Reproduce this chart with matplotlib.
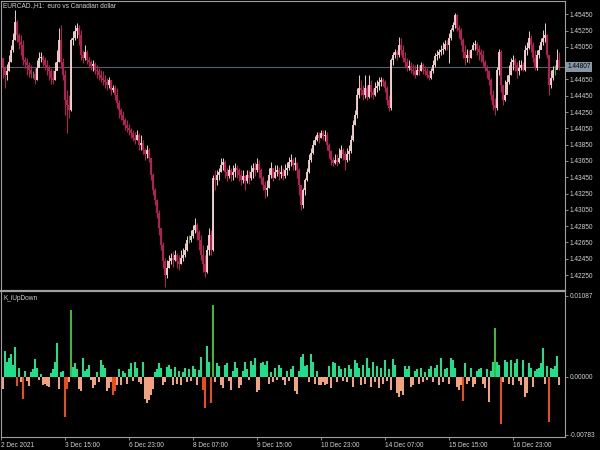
import matplotlib
matplotlib.use("Agg")
import matplotlib.pyplot as plt
import numpy as np

# EURCAD H1 bars from 2 Dec 2021 07:00, one value per bar
first_open = 1.4495
closes = [
    1.4491, 1.4479, 1.4470, 1.4475, 1.4487, 1.4501, 1.4513, 1.4536, 1.4520, 1.4511,
    1.4507, 1.4489, 1.4487, 1.4483, 1.4477, 1.4472, 1.4472, 1.4464, 1.4479, 1.4491,
    1.4492, 1.4489, 1.4483, 1.4479, 1.4475, 1.4467, 1.4464, 1.4475, 1.4487, 1.4513,
    1.4487, 1.4471, 1.4440, 1.4434, 1.4428, 1.4513, 1.4516, 1.4524, 1.4528, 1.4520,
    1.4495, 1.4491, 1.4499, 1.4489, 1.4487, 1.4482, 1.4484, 1.4477, 1.4475, 1.4471,
    1.4467, 1.4464, 1.4462, 1.4458, 1.4464, 1.4452, 1.4454, 1.4446, 1.4436, 1.4428,
    1.4422, 1.4415, 1.4409, 1.4405, 1.4403, 1.4399, 1.4393, 1.4391, 1.4397, 1.4385,
    1.4387, 1.4379, 1.4373, 1.4379, 1.4369, 1.4348, 1.4329, 1.4317, 1.4301, 1.4283,
    1.4262, 1.4242, 1.4225, 1.4234, 1.4242, 1.4246, 1.4244, 1.4250, 1.4242, 1.4238,
    1.4246, 1.4250, 1.4256, 1.4268, 1.4268, 1.4273, 1.4280, 1.4287, 1.4278, 1.4268,
    1.4250, 1.4238, 1.4229, 1.4256, 1.4274, 1.4256, 1.4344, 1.4342, 1.4348, 1.4352,
    1.4360, 1.4364, 1.4352, 1.4347, 1.4354, 1.4348, 1.4352, 1.4356, 1.4354, 1.4348,
    1.4342, 1.4347, 1.4340, 1.4348, 1.4344, 1.4352, 1.4356, 1.4354, 1.4361, 1.4354,
    1.4344, 1.4336, 1.4329, 1.4332, 1.4348, 1.4356, 1.4344, 1.4352, 1.4354, 1.4349,
    1.4352, 1.4347, 1.4354, 1.4356, 1.4364, 1.4366, 1.4360, 1.4362, 1.4354, 1.4336,
    1.4311, 1.4329, 1.4342, 1.4352, 1.4366, 1.4375, 1.4385, 1.4391, 1.4397, 1.4393,
    1.4399, 1.4396, 1.4397, 1.4385, 1.4377, 1.4366, 1.4362, 1.4366, 1.4364, 1.4369,
    1.4379, 1.4373, 1.4366, 1.4373, 1.4377, 1.4391, 1.4409, 1.4422, 1.4446, 1.4454,
    1.4452, 1.4446, 1.4454, 1.4443, 1.4458, 1.4450, 1.4446, 1.4454, 1.4457, 1.4462,
    1.4464, 1.4462, 1.4454, 1.4440, 1.4430, 1.4489, 1.4495, 1.4499, 1.4495, 1.4507,
    1.4501, 1.4491, 1.4487, 1.4479, 1.4482, 1.4477, 1.4475, 1.4471, 1.4477, 1.4475,
    1.4483, 1.4477, 1.4475, 1.4471, 1.4467, 1.4475, 1.4483, 1.4494, 1.4495, 1.4499,
    1.4501, 1.4503, 1.4509, 1.4507, 1.4516, 1.4526, 1.4532, 1.4544, 1.4528, 1.4526,
    1.4513, 1.4499, 1.4491, 1.4495, 1.4491, 1.4501, 1.4507, 1.4509, 1.4503, 1.4499,
    1.4495, 1.4487, 1.4479, 1.4475, 1.4464, 1.4446, 1.4434, 1.4430, 1.4477, 1.4499,
    1.4458, 1.4440, 1.4446, 1.4462, 1.4471, 1.4487, 1.4489, 1.4483, 1.4475, 1.4479,
    1.4483, 1.4477, 1.4501, 1.4504, 1.4516, 1.4507, 1.4491, 1.4479, 1.4495, 1.4501,
    1.4511, 1.4516, 1.4519, 1.4495, 1.4458, 1.4467, 1.4477, 1.4477, 1.4489, 1.44807,
]
highs = [
    1.4501, 1.4489, 1.4482, 1.4484, 1.4495, 1.4507, 1.4522, 1.4550, 1.4538, 1.4522,
    1.4520, 1.4513, 1.4492, 1.4491, 1.4487, 1.4483, 1.4475, 1.4479, 1.4489, 1.4499,
    1.4499, 1.4495, 1.4492, 1.4489, 1.4483, 1.4479, 1.4477, 1.4487, 1.4501, 1.4528,
    1.4532, 1.4491, 1.4477, 1.4452, 1.4446, 1.4516, 1.4524, 1.4532, 1.4534, 1.4532,
    1.4526, 1.4501, 1.4507, 1.4501, 1.4492, 1.4489, 1.4489, 1.4487, 1.4483, 1.4479,
    1.4477, 1.4475, 1.4471, 1.4467, 1.4468, 1.4464, 1.4458, 1.4458, 1.4454, 1.4440,
    1.4430, 1.4426, 1.4418, 1.4415, 1.4410, 1.4406, 1.4403, 1.4401, 1.4403, 1.4399,
    1.4397, 1.4391, 1.4381, 1.4385, 1.4381, 1.4369, 1.4350, 1.4332, 1.4318, 1.4305,
    1.4283, 1.4266, 1.4246, 1.4244, 1.4250, 1.4252, 1.4254, 1.4256, 1.4252, 1.4250,
    1.4256, 1.4258, 1.4264, 1.4273, 1.4274, 1.4280, 1.4287, 1.4295, 1.4289, 1.4280,
    1.4274, 1.4262, 1.4250, 1.4262, 1.4283, 1.4280, 1.4348, 1.4354, 1.4354, 1.4356,
    1.4369, 1.4369, 1.4366, 1.4356, 1.4360, 1.4356, 1.4360, 1.4362, 1.4360, 1.4356,
    1.4354, 1.4354, 1.4348, 1.4354, 1.4354, 1.4360, 1.4362, 1.4364, 1.4369, 1.4366,
    1.4356, 1.4347, 1.4340, 1.4342, 1.4356, 1.4364, 1.4354, 1.4360, 1.4360, 1.4357,
    1.4360, 1.4356, 1.4361, 1.4364, 1.4370, 1.4373, 1.4369, 1.4370, 1.4364, 1.4356,
    1.4336, 1.4332, 1.4344, 1.4356, 1.4373, 1.4381, 1.4391, 1.4396, 1.4401, 1.4401,
    1.4403, 1.4403, 1.4403, 1.4401, 1.4387, 1.4379, 1.4370, 1.4373, 1.4373, 1.4381,
    1.4385, 1.4381, 1.4377, 1.4381, 1.4385, 1.4397, 1.4415, 1.4428, 1.4454, 1.4471,
    1.4464, 1.4458, 1.4471, 1.4458, 1.4471, 1.4464, 1.4454, 1.4462, 1.4464, 1.4468,
    1.4468, 1.4467, 1.4464, 1.4457, 1.4446, 1.4491, 1.4499, 1.4503, 1.4501, 1.4517,
    1.4516, 1.4507, 1.4499, 1.4491, 1.4489, 1.4487, 1.4484, 1.4483, 1.4484, 1.4483,
    1.4487, 1.4485, 1.4482, 1.4479, 1.4477, 1.4479, 1.4489, 1.4497, 1.4501, 1.4503,
    1.4507, 1.4511, 1.4513, 1.4513, 1.4522, 1.4528, 1.4536, 1.4547, 1.4545, 1.4532,
    1.4528, 1.4516, 1.4507, 1.4503, 1.4501, 1.4503, 1.4511, 1.4513, 1.4511, 1.4507,
    1.4503, 1.4501, 1.4489, 1.4483, 1.4477, 1.4467, 1.4452, 1.4442, 1.4480, 1.4503,
    1.4501, 1.4458, 1.4464, 1.4471, 1.4483, 1.4491, 1.4495, 1.4491, 1.4487, 1.4489,
    1.4489, 1.4487, 1.4507, 1.4511, 1.4524, 1.4520, 1.4511, 1.4501, 1.4501, 1.4507,
    1.4516, 1.4526, 1.4534, 1.4521, 1.4495, 1.4477, 1.4482, 1.4483, 1.4503, 1.4499,
]
lows = [
    1.4483, 1.4467, 1.4455, 1.4464, 1.4475, 1.4487, 1.4499, 1.4513, 1.4511, 1.4503,
    1.4495, 1.4483, 1.4479, 1.4471, 1.4468, 1.4467, 1.4467, 1.4460, 1.4464, 1.4483,
    1.4487, 1.4482, 1.4477, 1.4471, 1.4464, 1.4460, 1.4459, 1.4464, 1.4477, 1.4487,
    1.4479, 1.4464, 1.4422, 1.4399, 1.4418, 1.4426, 1.4507, 1.4513, 1.4516, 1.4507,
    1.4489, 1.4485, 1.4489, 1.4484, 1.4480, 1.4477, 1.4475, 1.4472, 1.4467, 1.4464,
    1.4462, 1.4458, 1.4455, 1.4452, 1.4454, 1.4446, 1.4450, 1.4440, 1.4430, 1.4418,
    1.4415, 1.4409, 1.4403, 1.4401, 1.4397, 1.4393, 1.4389, 1.4386, 1.4391, 1.4379,
    1.4379, 1.4373, 1.4366, 1.4369, 1.4364, 1.4342, 1.4323, 1.4311, 1.4295, 1.4274,
    1.4256, 1.4234, 1.4210, 1.4221, 1.4234, 1.4238, 1.4235, 1.4242, 1.4234, 1.4231,
    1.4238, 1.4242, 1.4247, 1.4254, 1.4264, 1.4266, 1.4270, 1.4276, 1.4268, 1.4256,
    1.4244, 1.4229, 1.4222, 1.4227, 1.4250, 1.4249, 1.4254, 1.4329, 1.4336, 1.4342,
    1.4352, 1.4354, 1.4344, 1.4340, 1.4344, 1.4340, 1.4342, 1.4345, 1.4344, 1.4340,
    1.4335, 1.4338, 1.4329, 1.4338, 1.4337, 1.4342, 1.4344, 1.4347, 1.4352, 1.4344,
    1.4337, 1.4329, 1.4320, 1.4322, 1.4332, 1.4344, 1.4340, 1.4344, 1.4347, 1.4342,
    1.4344, 1.4342, 1.4344, 1.4348, 1.4354, 1.4359, 1.4354, 1.4354, 1.4344, 1.4323,
    1.4305, 1.4307, 1.4323, 1.4340, 1.4350, 1.4364, 1.4373, 1.4384, 1.4389, 1.4387,
    1.4393, 1.4391, 1.4389, 1.4379, 1.4369, 1.4360, 1.4359, 1.4361, 1.4359, 1.4362,
    1.4369, 1.4366, 1.4354, 1.4364, 1.4366, 1.4375, 1.4389, 1.4409, 1.4418, 1.4442,
    1.4446, 1.4440, 1.4442, 1.4440, 1.4442, 1.4443, 1.4441, 1.4445, 1.4450, 1.4452,
    1.4457, 1.4457, 1.4450, 1.4434, 1.4426, 1.4428, 1.4483, 1.4491, 1.4489, 1.4492,
    1.4495, 1.4487, 1.4479, 1.4475, 1.4477, 1.4473, 1.4470, 1.4467, 1.4470, 1.4470,
    1.4475, 1.4472, 1.4470, 1.4467, 1.4464, 1.4466, 1.4473, 1.4480, 1.4489, 1.4491,
    1.4495, 1.4496, 1.4501, 1.4501, 1.4485, 1.4513, 1.4524, 1.4528, 1.4524, 1.4516,
    1.4507, 1.4491, 1.4483, 1.4487, 1.4485, 1.4491, 1.4501, 1.4501, 1.4495, 1.4489,
    1.4487, 1.4482, 1.4475, 1.4467, 1.4458, 1.4440, 1.4428, 1.4422, 1.4428, 1.4471,
    1.4450, 1.4434, 1.4438, 1.4450, 1.4460, 1.4471, 1.4477, 1.4475, 1.4467, 1.4471,
    1.4477, 1.4475, 1.4475, 1.4495, 1.4503, 1.4499, 1.4487, 1.4477, 1.4477, 1.4491,
    1.4503, 1.4507, 1.4511, 1.4491, 1.4446, 1.4454, 1.4464, 1.4470, 1.4479, 1.4477,
]

# K_iUpDown histogram, one value per bar
updown = [
    -0.0015, -0.0017, 0.0034, 0.0020, 0.0025, 0.0030, 0.0015, 0.0040, -0.0013, 0.0012,
    -0.0008, -0.0030, 0.0008, -0.0006, -0.0013, 0.0006, 0.0010, 0.0023, 0.0012, -0.0005,
    0.0004, -0.0012, -0.0010, -0.0013, -0.0014, 0.0005, 0.0010, 0.0020, 0.0045, -0.0017,
    0.0006, 0.0008, -0.0055, -0.0017, -0.0008, 0.0089, 0.0013, 0.0018, 0.0010, -0.0017,
    -0.0020, 0.0025, 0.0008, 0.0010, 0.0015, -0.0005, -0.0015, -0.0012, 0.0006, -0.0008,
    0.0022, 0.0015, 0.0012, -0.0020, -0.0015, -0.0008, -0.0025, -0.0020, -0.0012, 0.0010,
    -0.0012, 0.0008, 0.0005, -0.0010, 0.0010, 0.0018, -0.0006, 0.0020, 0.0012, -0.0008,
    -0.0010, 0.0020, -0.0030, -0.0035, -0.0032, -0.0025, -0.0017, 0.0006, 0.0010, 0.0018,
    0.0012, -0.0012, -0.0008, 0.0013, 0.0016, 0.0010, -0.0012, 0.0013, -0.0010, 0.0008,
    -0.0012, 0.0006, 0.0012, -0.0008, 0.0010, -0.0006, 0.0014, 0.0010, -0.0012, 0.0009,
    0.0026, -0.0018, -0.0042, 0.0041, 0.0020, -0.0035, 0.0097, -0.0008, 0.0018, 0.0014,
    -0.0012, -0.0015, 0.0015, 0.0018, -0.0006, -0.0018, 0.0008, 0.0020, 0.0012, -0.0015,
    -0.0012, 0.0008, 0.0020, 0.0010, -0.0005, 0.0021, 0.0016, 0.0025, -0.0021, -0.0018,
    0.0018, 0.0020, 0.0016, 0.0021, -0.0010, 0.0006, -0.0008, 0.0012, -0.0005, 0.0016,
    0.0012, -0.0004, -0.0012, 0.0008, -0.0006, 0.0010, 0.0014, -0.0020, -0.0024, 0.0008,
    0.0026, 0.0030, 0.0014, 0.0016, -0.0008, 0.0030, 0.0020, -0.0010, 0.0008, -0.0012,
    -0.0012, -0.0008, -0.0012, -0.0010, 0.0014, -0.0015, 0.0020, 0.0018, -0.0008, 0.0014,
    0.0010, -0.0006, 0.0012, -0.0008, 0.0015, 0.0010, -0.0014, 0.0022, 0.0018, 0.0012,
    -0.0012, 0.0016, -0.0010, 0.0025, 0.0012, -0.0014, 0.0020, -0.0008, 0.0014, -0.0016,
    0.0012, -0.0010, 0.0022, -0.0006, 0.0010, -0.0018, 0.0024, 0.0016, -0.0022, -0.0027,
    -0.0020, -0.0025, 0.0014, 0.0010, 0.0014, -0.0014, -0.0012, 0.0008, 0.0010, -0.0010,
    0.0012, -0.0008, 0.0006, -0.0005, 0.0010, 0.0014, -0.0008, 0.0012, 0.0015, -0.0012,
    0.0025, -0.0008, 0.0010, 0.0012, -0.0010, 0.0025, 0.0022, 0.0012, -0.0014, -0.0018,
    -0.0012, -0.0033, 0.0018, -0.0010, -0.0006, 0.0012, -0.0014, -0.0010, 0.0008, 0.0010,
    0.0012, -0.0010, -0.0015, 0.0010, -0.0034, 0.0008, 0.0020, 0.0066, 0.0020, 0.0015,
    -0.0064, -0.0008, 0.0022, 0.0020, -0.0010, 0.0022, -0.0012, 0.0018, 0.0024, -0.0006,
    -0.0012, 0.0022, -0.0028, -0.0022, 0.0018, 0.0012, -0.0014, 0.0008, 0.0010, 0.0012,
    0.0018, 0.0039, -0.0010, 0.0014, -0.0061, 0.0012, 0.0010, 0.0014, 0.0028, -0.0012,
]
strong_bars = [8, 11, 32, 33, 35, 56, 57, 101, 102, 105, 106, 231, 247, 250, 274]

price_ticks = [1.45450, 1.45250, 1.45050, 1.44850, 1.44650, 1.44450, 1.44250, 1.44050,
               1.43850, 1.43650, 1.43450, 1.43250, 1.43050, 1.42850, 1.42650, 1.42450, 1.42250]
hist_ticks = [0.01087, 0.0, -0.00783]
time_bars = [0, 32, 64, 96, 128, 160, 192, 224, 256]
time_labels = ["2 Dec 2021", "3 Dec 15:00", "6 Dec 23:00", "8 Dec 07:00", "9 Dec 15:00",
               "10 Dec 23:00", "14 Dec 07:00", "15 Dec 15:00", "16 Dec 23:00"]
last_price = 1.44807

FG = "#d2d2d2"
FRAME = "#a0a0a0"
BULL = "#f3cfcf"
BEAR = "#c21d5b"
DOJI = "#1fbf1f"
UP = "#1fe08a"
UP_STRONG = "#3fb83a"
DOWN = "#f2a27e"
DOWN_STRONG = "#ee4c14"
FONT = "Liberation Sans"
FS = 4.7


def px_rect(x0, y0, x1, y1):
    return [x0 / 600, 1 - y1 / 450, (x1 - x0) / 600, (y1 - y0) / 450]


def style_axes(ax):
    ax.set_facecolor("black")
    for side in ("left", "right", "top", "bottom"):
        ax.spines[side].set_color(FRAME)
        ax.spines[side].set_linewidth(0.8)
    ax.yaxis.tick_right()
    ax.tick_params(axis="y", direction="out", length=2.5, width=0.6, color=FRAME,
                   labelcolor=FG, labelsize=FS, pad=1)
    ax.set_xlim(0, 282)


plt.rcParams["font.family"] = [FONT, "DejaVu Sans"]

opens = np.array([first_open] + closes[:-1])
c = np.array(closes)
h = np.array(highs)
lo = np.array(lows)
x = np.arange(len(c))

fig = plt.figure(figsize=(6, 4.5), dpi=100, facecolor="black")
ax = fig.add_axes(px_rect(1, 1, 565, 291))
ax2 = fig.add_axes(px_rect(1, 292.5, 565, 437))
style_axes(ax)
style_axes(ax2)

# price panel
doji = np.isclose(c, opens)
colors = np.where(doji, DOJI, np.where(c > opens, BULL, BEAR))
ax.vlines(x, lo, h, colors=colors, linewidth=0.7)
ax.vlines(x, np.minimum(opens, c), np.maximum(opens, c), colors=colors, linewidth=1.35)
ax.axhline(last_price, color="#56606c", linewidth=0.8, zorder=0)
ax.set_ylim(1.42054, 1.45613)
ax.set_yticks(price_ticks)
# the 1.44850 label sits under the last-price box, as in the terminal
ax.set_yticklabels(["" if abs(p - 1.44850) < 1e-6 else f"{p:.5f}" for p in price_ticks])
ax.set_xticks([])
ax.spines["bottom"].set_linewidth(1.6)
ax.text(1.004, last_price, f"{last_price:.5f}", transform=ax.get_yaxis_transform(),
        ha="left", va="center", fontsize=FS, color="black", clip_on=False, zorder=5,
        bbox=dict(boxstyle="square,pad=0.25", facecolor="#8795a4", edgecolor="none"))
ax.text(0.004, 0.997, "EURCAD.,H1:  euro vs Canadian dollar", transform=ax.transAxes,
        ha="left", va="top", fontsize=FS, color=FG)

# indicator panel
vals = np.array(updown)
strong = np.isin(x, strong_bars)
hcolors = np.where(vals >= 0, np.where(strong, UP_STRONG, UP), np.where(strong, DOWN_STRONG, DOWN))
ax2.bar(x, vals, width=0.55, color=hcolors, linewidth=0)
ax2.set_ylim(-0.00814, 0.01132)
ax2.set_yticks(hist_ticks)
ax2.set_yticklabels([f"{v:.5f}" for v in hist_ticks])
ax2.spines["top"].set_visible(False)
ax2.text(0.004, 0.985, "K_iUpDown", transform=ax2.transAxes, ha="left", va="top",
         fontsize=FS, color=FG)
ax2.set_xticks(time_bars)
ax2.set_xticklabels(time_labels)
ax2.tick_params(axis="x", direction="out", length=2.5, width=0.6, color=FRAME,
                labelcolor=FG, labelsize=FS, pad=1)
for lbl in ax2.get_xticklabels():
    lbl.set_horizontalalignment("left")

fig.savefig("out.png", dpi=100, facecolor="black")
